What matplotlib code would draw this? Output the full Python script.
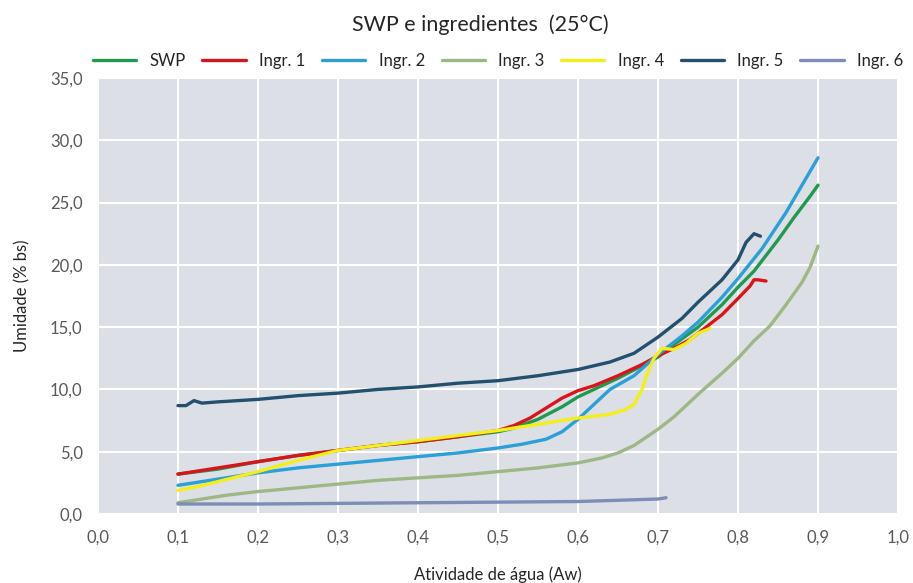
import matplotlib
matplotlib.use("Agg")
import matplotlib.pyplot as plt

plt.rcParams['font.family'] = ['Lato', 'DejaVu Sans']

# ---- data ----
swp_x = [0.10,0.15,0.20,0.25,0.30,0.35,0.40,0.45,0.50,0.52,0.55,0.58,0.60,0.62,0.65,0.68,0.70,0.72,0.75,0.78,0.80,0.82,0.85,0.87,0.89,0.90]
swp_y = [3.2,3.6,4.2,4.7,5.1,5.5,5.8,6.2,6.6,6.9,7.6,8.6,9.4,10.0,10.9,11.9,12.6,13.6,15.0,16.8,18.2,19.5,22.0,23.8,25.5,26.4]

ingr1_x = [0.10,0.15,0.20,0.25,0.30,0.35,0.40,0.45,0.50,0.52,0.54,0.555,0.57,0.58,0.60,0.62,0.65,0.68,0.70,0.72,0.74,0.76,0.78,0.80,0.815,0.82,0.825,0.835]
ingr1_y = [3.2,3.7,4.2,4.7,5.1,5.5,5.8,6.2,6.7,7.1,7.7,8.3,8.9,9.3,9.9,10.3,11.1,12.0,12.7,13.3,14.0,15.0,16.0,17.3,18.3,18.8,18.8,18.7]

ingr2_x = [0.10,0.15,0.20,0.25,0.30,0.35,0.40,0.45,0.50,0.53,0.56,0.58,0.60,0.62,0.64,0.67,0.70,0.73,0.75,0.78,0.80,0.83,0.86,0.88,0.90]
ingr2_y = [2.3,2.8,3.3,3.7,4.0,4.3,4.6,4.9,5.3,5.6,6.0,6.6,7.6,8.8,10.0,11.1,12.8,14.3,15.4,17.4,18.9,21.3,24.2,26.4,28.6]

ingr3_x = [0.10,0.13,0.16,0.20,0.25,0.30,0.35,0.40,0.45,0.50,0.55,0.60,0.63,0.65,0.67,0.70,0.72,0.75,0.78,0.80,0.82,0.84,0.86,0.88,0.89,0.90]
ingr3_y = [0.9,1.2,1.5,1.8,2.1,2.4,2.7,2.9,3.1,3.4,3.7,4.1,4.5,4.9,5.5,6.8,7.8,9.6,11.3,12.5,13.9,15.1,16.8,18.6,19.8,21.5]

ingr4_x = [0.10,0.125,0.15,0.175,0.20,0.25,0.30,0.35,0.40,0.45,0.50,0.55,0.60,0.64,0.66,0.67,0.68,0.685,0.69,0.695,0.70,0.705,0.72,0.735,0.75,0.765]
ingr4_y = [1.9,2.2,2.6,3.0,3.4,4.3,5.1,5.5,5.9,6.3,6.7,7.2,7.7,8.0,8.4,8.8,10.0,11.0,11.8,12.5,12.9,13.3,13.2,13.7,14.5,14.9]

ingr5_x = [0.10,0.11,0.12,0.13,0.15,0.20,0.25,0.30,0.35,0.40,0.45,0.50,0.55,0.60,0.64,0.67,0.70,0.73,0.75,0.78,0.80,0.81,0.82,0.828]
ingr5_y = [8.7,8.7,9.1,8.9,9.0,9.2,9.5,9.7,10.0,10.2,10.5,10.7,11.1,11.6,12.2,12.9,14.2,15.7,17.0,18.8,20.4,21.8,22.5,22.3]

ingr6_x = [0.10,0.15,0.20,0.30,0.40,0.50,0.60,0.65,0.70,0.71]
ingr6_y = [0.8,0.8,0.8,0.85,0.9,0.95,1.0,1.1,1.2,1.3]

labels = ["SWP", "Ingr. 1", "Ingr. 2", "Ingr. 3", "Ingr. 4", "Ingr. 5", "Ingr. 6"]
colors = ["#1f9a4e", "#d9141b", "#2a9fd8", "#9db884", "#f3ef1a", "#23506e", "#7d8db6"]

x_ticks = [0.0,0.1,0.2,0.3,0.4,0.5,0.6,0.7,0.8,0.9,1.0]
y_ticks = [0,5,10,15,20,25,30,35]

series = [(swp_x, swp_y), (ingr1_x, ingr1_y), (ingr2_x, ingr2_y), (ingr3_x, ingr3_y),
          (ingr4_x, ingr4_y), (ingr5_x, ingr5_y), (ingr6_x, ingr6_y)]

fig = plt.figure(figsize=(9.13, 5.83), dpi=100)
ax = fig.add_axes([0.1073, 0.1184, 0.8763, 0.7478])
ax.set_facecolor("#dcdfe6")

for (xs, ys), lab, c in zip(series, labels, colors):
    ax.plot(xs, ys, color=c, lw=2.4, label=lab, solid_capstyle='round', solid_joinstyle='round')

ax.set_xlim(0, 1.0)
ax.set_ylim(0, 35)
ax.set_xticks(x_ticks)
ax.set_yticks(y_ticks)
ax.set_xticklabels([f"{v:.1f}".replace(".", ",") for v in x_ticks])
ax.set_yticklabels([f"{v:.1f}".replace(".", ",") for v in y_ticks])
ax.grid(True, color="white", lw=1.5)
ax.set_axisbelow(True)
for s in ax.spines.values():
    s.set_visible(False)
ax.tick_params(length=0, labelsize=12, colors="#595959", pad=11)

ax.set_xlabel("Atividade de água (Aw)", fontsize=12, color="#262626", labelpad=15)
ax.set_ylabel("Umidade (% bs)", fontsize=12, color="#262626", labelpad=14)

fig.text(0.526, 0.958, "SWP e ingredientes  (25°C)", ha="center", va="center",
         fontsize=15.5, color="#262626")

leg = ax.legend(ncol=7, loc="center", bbox_to_anchor=(0.5, 1.04), frameon=False,
                fontsize=12, handlelength=2.6, handletextpad=0.8, columnspacing=1.0,
                borderaxespad=0)
for t in leg.get_texts():
    t.set_color("#262626")

fig.savefig("out.png", dpi=100)
